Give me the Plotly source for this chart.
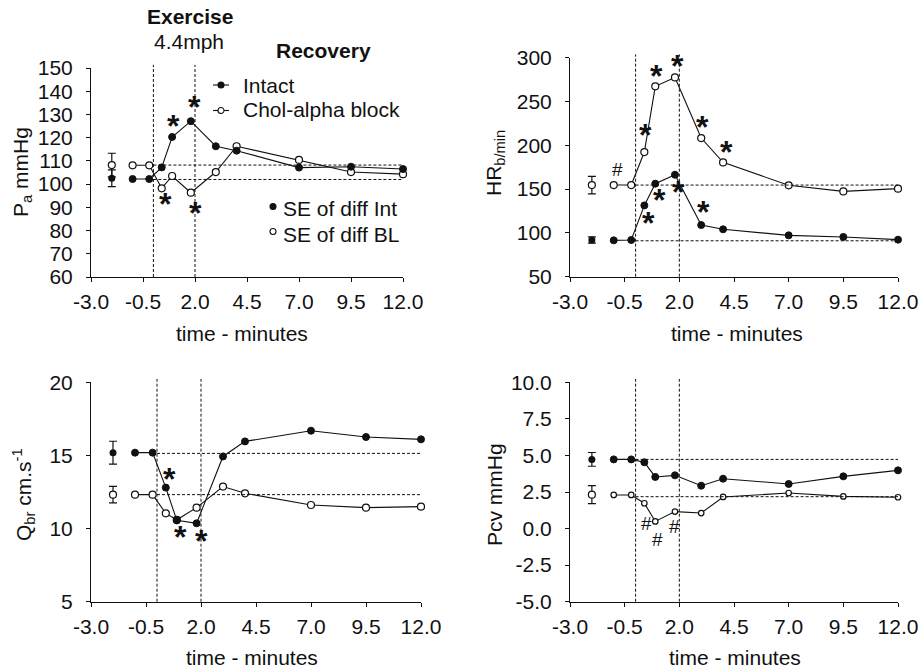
import plotly.graph_objects as go

W, H = 919, 669
FONT = "Liberation Sans, Arial, sans-serif"
INK = "#111111"

# ---------------- data ----------------
times = [-1.0, -0.2, 0.4, 0.9, 1.8, 3.0, 4.0, 7.0, 9.5, 12.0]
se_time = -2.0
phase_lines = [0.0, 2.0]
x_ticks = [-3.0, -0.5, 2.0, 4.5, 7.0, 9.5, 12.0]
x_ticklabels = ["-3.0", "-0.5", "2.0", "4.5", "7.0", "9.5", "12.0"]

pa_intact = [102.2, 102.2, 107.2, 120.3, 127.1, 116.3, 114.4, 107.1, 107.5, 106.5]
pa_chol = [108.1, 108.1, 98.2, 103.5, 96.3, 105.2, 116.3, 110.4, 105.2, 104.3]
pa_se_mean = [102.5, 108.2]
pa_se_err = [3.6, 5.1]
pa_baseline = [102.0, 108.2]
pa_yticks = [60, 70, 80, 90, 100, 110, 120, 130, 140, 150]
pa_yticklabels = ["60", "70", "80", "90", "100", "110", "120", "130", "140", "150"]
pa_marks = [(0.96, 126.7, "*"), (1.97, 134.9, "*"), (0.56, 93.1, "*"), (2.0, 89.1, "*")]

hr_intact = [91.5, 91.9, 131.4, 156.2, 166.4, 109.0, 104.1, 97.2, 95.4, 92.3]
hr_chol = [154.6, 154.6, 192.3, 267.3, 277.5, 208.3, 180.5, 154.3, 147.4, 150.5]
hr_se_mean = [91.9, 154.6]
hr_se_err = [3.5, 10.0]
hr_baseline = [91.0, 154.6]
hr_yticks = [50, 100, 150, 200, 250, 300]
hr_yticklabels = ["50", "100", "150", "200", "250", "300"]
hr_marks = [(0.45, 216.7, "*"), (0.97, 284.0, "*"), (1.91, 295.4, "*"), (3.07, 226.0, "*"),
            (4.17, 196.9, "*"), (0.6, 116.2, "*"), (1.09, 142.0, "*"), (1.96, 151.6, "*"),
            (3.1, 128.4, "*"), (-0.82, 171.8, "#")]

qbr_intact = [15.19, 15.19, 12.8, 10.56, 10.36, 14.93, 15.96, 16.69, 16.26, 16.1]
qbr_chol = [12.32, 12.32, 11.04, 10.6, 11.43, 12.87, 12.41, 11.61, 11.43, 11.5]
qbr_se_mean = [15.19, 12.32]
qbr_se_err = [0.78, 0.57]
qbr_baseline = [15.14, 12.32]
qbr_yticks = [5, 10, 15, 20]
qbr_yticklabels = ["5", "10", "15", "20"]
qbr_marks = [(0.56, 13.69, "*"), (1.09, 9.68, "*"), (2.0, 9.45, "*")]

pcv_intact = [4.73, 4.73, 4.53, 3.53, 3.64, 2.93, 3.41, 3.05, 3.57, 3.98]
pcv_chol = [2.30, 2.30, 1.73, 0.49, 1.16, 1.06, 2.16, 2.43, 2.20, 2.14]
pcv_se_mean = [4.73, 2.32]
pcv_se_err = [0.47, 0.62]
pcv_baseline = [4.73, 2.18]
pcv_yticks = [-5.0, -2.5, 0.0, 2.5, 5.0, 7.5, 10.0]
pcv_yticklabels = ["-5.0", "-2.5", "0.0", "2.5", "5.0", "7.5", "10.0"]
pcv_marks = [(0.51, 0.36, "#"), (1.0, -0.74, "#"), (1.8, 0.13, "#")]

# ---------------- layout helpers ----------------
def px(x):
    return x / W

def py(y):
    return 1 - y / H

panels = [
    dict(key="", intact=pa_intact, chol=pa_chol, se_mean=pa_se_mean, se_err=pa_se_err,
         base=pa_baseline, marks=pa_marks, xdom=(91, 403), ydom=(68, 277),
         yrange=[60, 150], yt=pa_yticks, ytl=pa_yticklabels, csize=7),
    dict(key="2", intact=hr_intact, chol=hr_chol, se_mean=hr_se_mean, se_err=hr_se_err,
         base=hr_baseline, marks=hr_marks, xdom=(570, 898), ydom=(57.7, 276.7),
         yrange=[50, 300], yt=hr_yticks, ytl=hr_yticklabels, csize=7),
    dict(key="3", intact=qbr_intact, chol=qbr_chol, se_mean=qbr_se_mean, se_err=qbr_se_err,
         base=qbr_baseline, marks=qbr_marks, xdom=(91, 421), ydom=(382.3, 601.7),
         yrange=[5, 20], yt=qbr_yticks, ytl=qbr_yticklabels, csize=7),
    dict(key="4", intact=pcv_intact, chol=pcv_chol, se_mean=pcv_se_mean, se_err=pcv_se_err,
         base=pcv_baseline, marks=pcv_marks, xdom=(570, 898), ydom=(382.3, 601.7),
         yrange=[-5, 10], yt=pcv_yticks, ytl=pcv_yticklabels, csize=5.5),
]

fig = go.Figure()
shapes = []
annotations = []
layout_axes = {}

for p in panels:
    k = p["key"]
    xa, ya = "x" + k, "y" + k
    # Chol-alpha block (open)
    fig.add_trace(go.Scatter(
        x=times, y=p["chol"], xaxis=xa, yaxis=ya, mode="lines+markers",
        line=dict(color=INK, width=1.1),
        marker=dict(symbol="circle", size=p["csize"], color="white",
                    line=dict(color=INK, width=1.2)),
        cliponaxis=False, showlegend=False))
    # Intact (filled)
    fig.add_trace(go.Scatter(
        x=times, y=p["intact"], xaxis=xa, yaxis=ya, mode="lines+markers",
        line=dict(color=INK, width=1.1),
        marker=dict(symbol="circle", size=7, color=INK, line=dict(color=INK, width=1)),
        cliponaxis=False, showlegend=False))
    # SE of difference markers
    fig.add_trace(go.Scatter(
        x=[se_time], y=[p["se_mean"][1]], xaxis=xa, yaxis=ya, mode="markers",
        marker=dict(symbol="circle", size=7, color="white", line=dict(color=INK, width=1.2)),
        error_y=dict(type="data", array=[p["se_err"][1]], color=INK, thickness=1.2, width=4),
        cliponaxis=False, showlegend=False))
    fig.add_trace(go.Scatter(
        x=[se_time], y=[p["se_mean"][0]], xaxis=xa, yaxis=ya, mode="markers",
        marker=dict(symbol="circle", size=7, color=INK),
        error_y=dict(type="data", array=[p["se_err"][0]], color=INK, thickness=1.2, width=4),
        cliponaxis=False, showlegend=False))

    # phase lines & baseline reference lines
    for xv in phase_lines:
        shapes.append(dict(type="line", xref=xa, yref=ya + " domain", x0=xv, x1=xv,
                           y0=0, y1=1.015, line=dict(color=INK, width=1, dash="3px,2px")))
    for bv in p["base"]:
        shapes.append(dict(type="line", xref=xa, yref=ya, x0=phase_lines[0], x1=12.1,
                           y0=bv, y1=bv, line=dict(color=INK, width=1, dash="3px,2px")))

    for (mx, my, mt) in p["marks"]:
        if mt == "*":
            annotations.append(dict(x=mx, y=my, xref=xa, yref=ya, text="<b>*</b>",
                                    showarrow=False, yshift=-4,
                                    font=dict(family=FONT, size=32, color=INK)))
        else:
            annotations.append(dict(x=mx, y=my, xref=xa, yref=ya, text=mt,
                                    showarrow=False,
                                    font=dict(family=FONT, size=19, color=INK)))

    layout_axes["xaxis" + k] = dict(
        domain=[px(p["xdom"][0]), px(p["xdom"][1])], anchor=ya, range=[-3, 12],
        tickmode="array", tickvals=x_ticks, ticktext=x_ticklabels,
        showline=True, linecolor=INK, linewidth=1,
        ticks="outside", ticklen=4, tickcolor=INK, tickwidth=1, showgrid=False,
        zeroline=False, tickfont=dict(family=FONT, size=21, color=INK),
        ticklabelstandoff=2, automargin=False, fixedrange=True)
    layout_axes["yaxis" + k] = dict(
        domain=[py(p["ydom"][1]), py(p["ydom"][0])], anchor=xa, range=p["yrange"],
        tickmode="array", tickvals=p["yt"], ticktext=p["ytl"],
        showline=True, linecolor=INK,
        linewidth=1, ticks="outside", ticklen=4, tickcolor=INK, tickwidth=1,
        showgrid=False, zeroline=False, tickfont=dict(family=FONT, size=21, color=INK),
        ticklabelstandoff=9, automargin=False, fixedrange=True)

# axis titles
def label(text, x, y, size=21, angle=0, bold=False, xanchor="center"):
    annotations.append(dict(text=("<b>%s</b>" % text) if bold else text,
                            x=px(x), y=py(y), xref="paper", yref="paper",
                            showarrow=False, textangle=angle, xanchor=xanchor,
                            yanchor="middle", font=dict(family=FONT, size=size, color=INK)))

label("time - minutes", 242, 333)
label("time - minutes", 737, 333)
label("time - minutes", 252, 657)
label("time - minutes", 735, 657)
label("P<sub>a</sub> mmHg", 22, 172, angle=-90)
label("HR<sub>b/min</sub>", 495, 163, angle=-90)
label("Q<sub>br</sub> cm.s<sup>-1</sup>", 23, 495, angle=-90)
label("Pcv mmHg", 494, 495, angle=-90)

# headings
label("Exercise", 190, 16, bold=True)
label("4.4mph", 189, 42)
label("Recovery", 323, 50, bold=True)

# legend
label("Intact", 241, 85, xanchor="left")
label("Chol-alpha block", 241, 110, xanchor="left")
label("SE of diff Int", 281, 209, xanchor="left")
label("SE of diff BL", 281, 235, xanchor="left")

def leg_line(y):
    shapes.append(dict(type="line", xref="paper", yref="paper", x0=px(213), x1=px(229),
                       y0=py(y), y1=py(y), line=dict(color=INK, width=1.1)))

def leg_dot(x, y, filled, r=3):
    shapes.append(dict(type="circle", xref="paper", yref="paper",
                       xsizemode="pixel", ysizemode="pixel", xanchor=px(x), yanchor=py(y),
                       x0=-r, x1=r, y0=-r, y1=r,
                       fillcolor=INK if filled else "white",
                       line=dict(color=INK, width=1.1)))

leg_line(85)
leg_dot(221, 85, True)
leg_line(110.5)
leg_dot(221, 110.5, False)
leg_dot(273, 206.5, True)
leg_dot(273, 231.5, False)

fig.update_layout(
    template="none",
    width=W, height=H, margin=dict(l=0, r=0, t=0, b=0, pad=0, autoexpand=False),
    paper_bgcolor="white", plot_bgcolor="white",
    showlegend=False, shapes=shapes, annotations=annotations,
    font=dict(family=FONT, color=INK), **layout_axes)

fig.write_html(
    "out.html",
    config={"displayModeBar": False, "staticPlot": True},
    post_script="document.body.style.margin='0';document.body.style.padding='0';"
                "document.body.style.overflow='hidden';")
